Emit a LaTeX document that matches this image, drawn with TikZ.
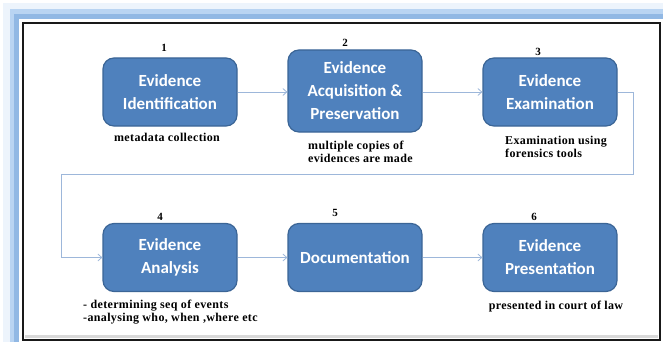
\documentclass[tikz,border=0pt]{standalone}
\usepackage{fontspec}
\setmainfont{Liberation Serif}
\newfontfamily\boxfont{Carlito}
\newfontfamily\notefont[LetterSpace=3]{Liberation Serif}
\usetikzlibrary{arrows.meta}
\definecolor{boxfill}{HTML}{4F81BD}
\definecolor{boxline}{HTML}{3B6596}
\definecolor{linkblue}{HTML}{9DB7DA}
\definecolor{glowlight}{HTML}{B9D4F2}
\definecolor{glowdark}{HTML}{91B8E4}
\begin{document}
\begin{tikzpicture}[x=1pt,y=-1pt,
  stage/.style={draw=boxline, line width=1.2pt, fill=boxfill, rounded corners=11pt,
    minimum width=134pt, minimum height=68pt, inner sep=0pt, align=center,
    text=white, font=\boxfont\bfseries\fontsize{17}{23}\selectfont},
  num/.style={font=\bfseries\fontsize{11}{12}\selectfont, inner sep=0pt},
  note/.style={font=\notefont\bfseries\fontsize{12}{13}\selectfont, inner sep=0pt, align=left},
  link/.style={draw=linkblue, line width=0.8pt, -{Straight Barb[length=4pt,width=7pt]}}
]
\useasboundingbox (0,0) rectangle (663,342);

% soft blue frame behind the page
\draw[glowlight, opacity=0.25, line width=12pt] (9,360) -- (9,9) -- (680,9);
\draw[glowlight, line width=5pt] (12,360) -- (12,12) -- (680,12);
\draw[glowdark, line width=5pt] (16.5,360) -- (16.5,16.5) -- (680,16.5);

% page border with a faint inner shadow at the bottom
\draw[black!15, line width=3pt] (25,336) -- (658,336);
\draw[black!90, line width=2.2pt] (23,23) rectangle (660,340);

% stages
\node[stage] (s1) at (170,92) {Evidence\\Identification};
\node[stage, minimum height=82pt] (s2) at (355,91) {Evidence\\Acquisition \&\\Preservation};
\node[stage] (s3) at (550,92) {Evidence\\Examination};
\node[stage] (s4) at (170,257.5) {Evidence\\Analysis};
\node[stage] (s5) at (355,257.5) {Documentation};
\node[stage] (s6) at (550,257.5) {Evidence\\Presentation};

% step numbers
\node[num] (n1) at (164,48) {1};
\node[num] (n2) at (345,43) {2};
\node[num] (n3) at (538,52) {3};
\node[num] (n4) at (160,217) {4};
\node[num] (n5) at (335,213) {5};
\node[num] (n6) at (534,217) {6};

% notes under the stages
\node[note] (t1) at (167,137) {metadata collection};
\node[note, anchor=west] (t2) at (308,151.5) {multiple copies of\\evidences are made};
\node[note, anchor=west] (t3) at (505,146.5) {Examination using\\forensics tools};
\node[note, anchor=west] (t4) at (83,312) {- determining seq of events\\-analysing who, when ,where etc};
\node[note] (t6) at (556,307) {presented in court of law};

% connectors
\coordinate (r) at (633,174);
\coordinate (l) at (61,174);
\draw[link] (s1.east) -- (s1.east -| s2.west);
\draw[link] (s3.west -| s2.east) -- (s3.west);
\draw[link] (s3.east) -| (r) -- (l) |- (s4.west);
\draw[link] (s4.east) -- (s5.west);
\draw[link] (s5.east) -- (s6.west);
\end{tikzpicture}
\end{document}
